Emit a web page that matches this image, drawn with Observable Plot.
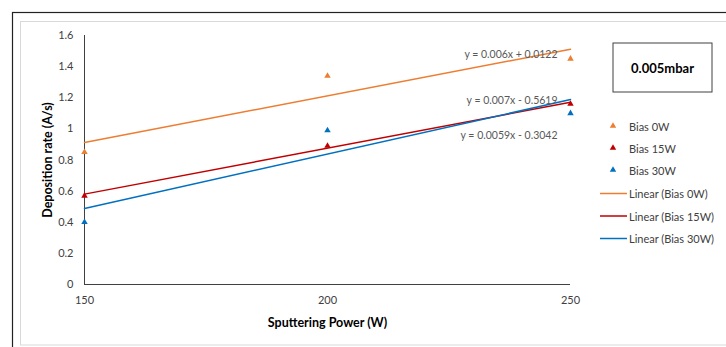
<!DOCTYPE html>
<html>
<head>
<meta charset="utf-8">
<script src="https://cdn.jsdelivr.net/npm/d3@7"></script>
<script src="https://cdn.jsdelivr.net/npm/@observablehq/plot@0.6"></script>
<style>
  html, body { margin: 0; padding: 0; background: #fff; }
  #chart svg { display: block; font-family: Lato, "Open Sans", sans-serif; }
  g[aria-label="y-axis label"] text, g[aria-label="x-axis label"] text {
    font-weight: bold; font-size: 12.5px; fill: #000;
  }
</style>
</head>
<body>
<div id="chart"></div>
<script>
// Sputtering power (W) and measured deposition rates (A/s) per substrate bias
const power = [150, 200, 250];
const bias0W = [0.85, 1.34, 1.45];
const bias15W = [0.57, 0.89, 1.16];
const bias30W = [0.40, 0.99, 1.10];

// Linear fits as reported on the chart: [slope, intercept]
const fit0W = [0.006, 0.0122];
const fit15W = [0.0059, -0.3042];
const fit30W = [0.007, -0.5619];

const yTicks = [0, 0.2, 0.4, 0.6, 0.8, 1, 1.2, 1.4, 1.6];
const xTicks = [150, 200, 250];
const seriesNames = ["Bias 0W", "Bias 15W", "Bias 30W"];
const fitLabels = ["y = 0.006x + 0.0122", "y = 0.0059x - 0.3042", "y = 0.007x - 0.5619"];
const pressureLabel = "0.005mbar";

const colors = ["#ED7D31", "#C00000", "#0070C0"];
const seriesValues = [bias0W, bias15W, bias30W];
const fits = [fit0W, fit15W, fit30W];

const points = seriesValues.flatMap((vals, i) =>
  vals.map((v, j) => ({series: seriesNames[i], x: power[j], y: v, color: colors[i]})));

const fitLines = fits.flatMap(([m, b], i) =>
  [150, 250].map(x => ({series: seriesNames[i], x, y: m * x + b, color: colors[i]})));

// equation labels sit next to the right end of each fit line
const labelDy = [5, 33, 1];
const fitText = fits.map(([m, b], i) => ({
  x: 250, y: m * 250 + b, text: fitLabels[i], dy: labelDy[i]
}));

const W = 726, H = 347;
const plot = Plot.plot({
  width: W,
  height: H,
  marginLeft: 84,
  marginRight: 156,
  marginTop: 35,
  marginBottom: 63,
  style: {fontSize: "11px", color: "#404040", background: "transparent"},
  x: {domain: [150, 250]},
  y: {domain: [0, 1.6]},
  marks: [
    Plot.axisY({ticks: yTicks, tickFormat: d => String(d), tickSize: 0, tickPadding: 11,
      label: "Deposition rate (A/s)", labelAnchor: "center", labelArrow: "none", labelOffset: 41,
      fill: "#404040", fontSize: 11}),
    Plot.axisX({ticks: xTicks, tickFormat: d => String(d), tickSize: 0, tickPadding: 12,
      label: "Sputtering Power (W)", labelAnchor: "center", labelArrow: "none", labelOffset: 42,
      fill: "#404040", fontSize: 11}),
    Plot.ruleX([150], {stroke: "#404040", strokeWidth: 1}),
    Plot.ruleY([0], {stroke: "#404040", strokeWidth: 1}),
    Plot.line(fitLines, {x: "x", y: "y", z: "series", stroke: "color", strokeWidth: 1.5}),
    Plot.dot(points, {x: "x", y: "y", symbol: "triangle", r: 2.4, fill: "color", stroke: "none"}),
    ...fitText.map(d => Plot.text([d], {x: "x", y: "y", text: "text", textAnchor: "end",
      dx: -13, dy: d.dy, fill: "#595959", fontSize: 10.5}))
  ]
});

const svg = d3.select(plot);
// chart frame (outer dark border and inner light border)
svg.insert("rect", ":first-child")
  .attr("x", 20.5).attr("y", 21.5).attr("width", 800).attr("height", 323.5)
  .attr("fill", "none").attr("stroke", "#d9d9d9");
svg.insert("rect", ":first-child")
  .attr("x", 12.5).attr("y", 12.5).attr("width", 800).attr("height", 400)
  .attr("fill", "#fff").attr("stroke", "#222").attr("stroke-width", 1.2);

// pressure box
const box = svg.append("g");
box.append("rect").attr("x", 613).attr("y", 43).attr("width", 99).attr("height", 49)
  .attr("fill", "#fff").attr("stroke", "#404040").attr("stroke-width", 1);
box.append("text").attr("x", 662.5).attr("y", 67.5).attr("text-anchor", "middle")
  .attr("dominant-baseline", "central").attr("font-weight", "bold").attr("font-size", 13)
  .attr("fill", "#000").text(pressureLabel);

// legend: markers then fit lines
const leg = svg.append("g").attr("font-size", 11).attr("fill", "#404040").attr("text-anchor", "start");
const tri = d3.symbol(d3.symbolTriangle, 2.4 * 2.4 * Math.PI)();
seriesNames.forEach((name, i) => {
  const y = 126 + i * 22;
  leg.append("path").attr("d", tri).attr("transform", `translate(613,${y})`).attr("fill", colors[i]);
  leg.append("text").attr("x", 629).attr("y", y).attr("dominant-baseline", "central").text(name);
});
seriesNames.forEach((name, i) => {
  const y = 193.5 + i * 22.5;
  leg.append("line").attr("x1", 600).attr("x2", 627).attr("y1", y).attr("y2", y)
    .attr("stroke", colors[i]).attr("stroke-width", 1.5);
  leg.append("text").attr("x", 629).attr("y", y).attr("dominant-baseline", "central")
    .text(`Linear (${name})`);
});

document.getElementById("chart").appendChild(plot);
</script>
</body>
</html>
